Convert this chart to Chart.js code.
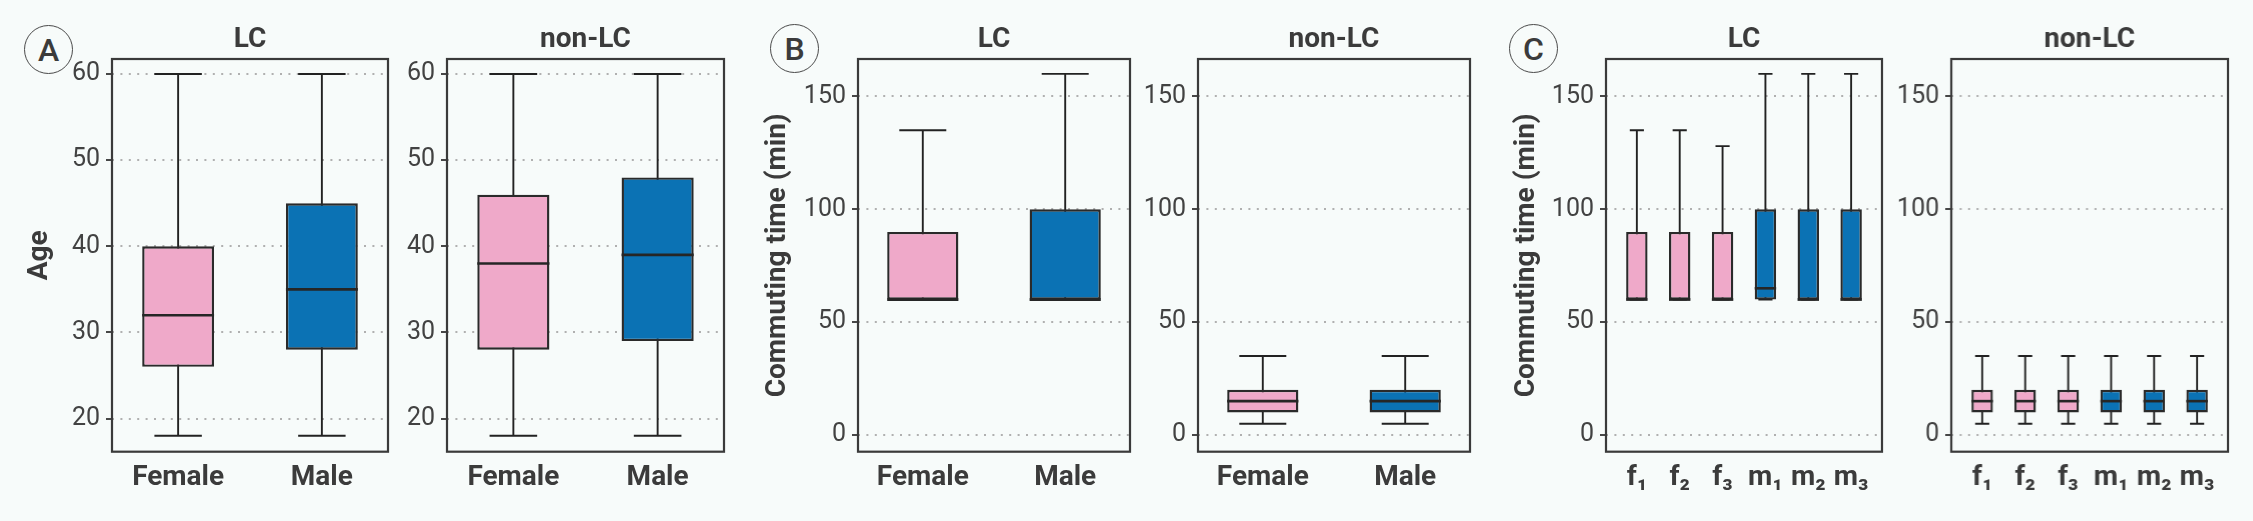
<!DOCTYPE html>
<html><head><meta charset="utf-8">
<script src="https://cdn.jsdelivr.net/npm/chart.js@4.4.1/dist/chart.umd.min.js"></script>
<style>
html,body{margin:0;padding:0;background:#F7FBFA;}
#wrap{position:relative;width:2253px;height:521px;overflow:hidden;background:#F7FBFA;}
#wrap canvas{position:absolute;top:0;}
.tag{position:absolute;width:49px;height:49px;border:1.3px solid #4a4a4a;border-radius:50%;box-sizing:border-box;display:flex;align-items:center;justify-content:center;font-family:Roboto,sans-serif;font-weight:500;font-size:32px;color:#3b3b3b;line-height:1;}
</style></head><body>
<div id="wrap">
  <div class="tag" style="left:24px;top:25px;">A</div>
  <div class="tag" style="left:770px;top:24px;">B</div>
  <div class="tag" style="left:1509px;top:24px;">C</div>
  <canvas id="aLC"></canvas><canvas id="aNon"></canvas>
  <canvas id="bLC"></canvas><canvas id="bNon"></canvas>
  <canvas id="cLC"></canvas><canvas id="cNon"></canvas>
</div>
<script>
// ---------- data ----------
const sexCats = ['Female', 'Male'];
const subCats = ['f₁', 'f₂', 'f₃', 'm₁', 'm₂', 'm₃'];
const ageTicks = [20, 30, 40, 50, 60];
const timeTicks = [0, 50, 100, 150];

// A: Age, LC
const ageLCMin = [18, 18];
const ageLCQ1  = [26, 28];
const ageLCMed = [32, 35];
const ageLCQ3  = [40, 45];
const ageLCMax = [60, 60];
// A: Age, non-LC
const ageNonMin = [18, 18];
const ageNonQ1  = [28, 29];
const ageNonMed = [38, 39];
const ageNonQ3  = [46, 48];
const ageNonMax = [60, 60];

// B: Commuting time by sex, LC
const timeLCMin = [60, 60];
const timeLCQ1  = [60, 60];
const timeLCMed = [60, 60];
const timeLCQ3  = [90, 100];
const timeLCMax = [135, 160];
// B: non-LC
const timeNonMin = [5, 5];
const timeNonQ1  = [10, 10];
const timeNonMed = [15, 15];
const timeNonQ3  = [20, 20];
const timeNonMax = [35, 35];

// C: Commuting time by subgroup, LC
const subLCMin = [60, 60, 60, 60, 60, 60];
const subLCQ1  = [60, 60, 60, 60, 60, 60];
const subLCMed = [60, 60, 60, 65, 60, 60];
const subLCQ3  = [90, 90, 90, 100, 100, 100];
const subLCMax = [135, 135, 128, 160, 160, 160];
// C: non-LC
const subNonMin = [5, 5, 5, 5, 5, 5];
const subNonQ1  = [10, 10, 10, 10, 10, 10];
const subNonMed = [15, 15, 15, 15, 15, 15];
const subNonQ3  = [20, 20, 20, 20, 20, 20];
const subNonMax = [35, 35, 35, 35, 35, 35];

// ---------- styling / layout ----------
const PINK = '#EFA9C9';
const BLUE = '#0B72B4';
const INK = '#3b3b3b';
const H = 521;
const YW = 100;          // fixed y-axis box width
const BOTTOM = 451.7;    // panel bottom

Chart.defaults.font.family = 'Roboto, sans-serif';
Chart.defaults.color = INK;

const panels = [
  {id:'aLC',  cats:sexCats, mn:ageLCMin, q1:ageLCQ1, md:ageLCMed, q3:ageLCQ3, mx:ageLCMax, ticks:ageTicks, yMin:16.15, yMax:61.75, title:'LC', yTitle:'Age', yTitleMid:39.6, left:112, right:388, pad:0.46},
  {id:'aNon', cats:sexCats, mn:ageNonMin, q1:ageNonQ1, md:ageNonMed, q3:ageNonQ3, mx:ageNonMax, ticks:ageTicks, yMin:16.15, yMax:61.75, title:'non-LC', yTitle:null, left:447, right:724, pad:0.46},
  {id:'bLC',  cats:sexCats, mn:timeLCMin, q1:timeLCQ1, md:timeLCMed, q3:timeLCQ3, mx:timeLCMax, ticks:timeTicks, yMin:-7.4, yMax:166.6, title:'LC', yTitle:'Commuting time (min)', yTitleMid:777.8, left:858.3, right:1130.5, pad:0.455},
  {id:'bNon', cats:sexCats, mn:timeNonMin, q1:timeNonQ1, md:timeNonMed, q3:timeNonQ3, mx:timeNonMax, ticks:timeTicks, yMin:-7.4, yMax:166.6, title:'non-LC', yTitle:null, left:1197.7, right:1470, pad:0.455},
  {id:'cLC',  cats:subCats, mn:subLCMin, q1:subLCQ1, md:subLCMed, q3:subLCQ3, mx:subLCMax, ticks:timeTicks, yMin:-7.4, yMax:166.6, title:'LC', yTitle:'Commuting time (min)', yTitleMid:1527.2, left:1606, right:1882, pad:0.72},
  {id:'cNon', cats:subCats, mn:subNonMin, q1:subNonQ1, md:subNonMed, q3:subNonQ3, mx:subNonMax, ticks:timeTicks, yMin:-7.4, yMax:166.6, title:'non-LC', yTitle:null, left:1951.3, right:2227.7, pad:0.72}
];

function colorFor(cat) { return (cat[0] === 'F' || cat[0] === 'f') ? PINK : BLUE; }

function boxPlugin(p) {
  return {
    id: 'box_' + p.id,
    beforeDatasetsDraw(chart) {
      const {ctx, scales: {x, y}} = chart;
      const cap = Math.abs(x.getPixelForValue(0.165) - x.getPixelForValue(0));
      ctx.save();
      ctx.strokeStyle = '#222';
      ctx.lineWidth = 1.9;
      p.cats.forEach((c, i) => {
        const px = x.getPixelForValue(i);
        const yT = y.getPixelForValue(p.mx[i]);
        const yB = y.getPixelForValue(p.mn[i]);
        ctx.beginPath();
        ctx.moveTo(px, yT); ctx.lineTo(px, yB);
        ctx.moveTo(px - cap, yT); ctx.lineTo(px + cap, yT);
        ctx.moveTo(px - cap, yB); ctx.lineTo(px + cap, yB);
        ctx.stroke();
      });
      ctx.restore();
    },
    afterDatasetsDraw(chart) {
      const {ctx, scales: {x, y}} = chart;
      const half = Math.abs(x.getPixelForValue(0.25) - x.getPixelForValue(0));
      ctx.save();
      ctx.strokeStyle = '#262626';
      ctx.lineWidth = 2.6;
      p.cats.forEach((c, i) => {
        const px = x.getPixelForValue(i);
        const ym = y.getPixelForValue(p.md[i]);
        ctx.beginPath();
        ctx.moveTo(px - half, ym); ctx.lineTo(px + half, ym);
        ctx.stroke();
      });
      ctx.restore();
    },
    afterDraw(chart) {
      const {ctx, chartArea: a} = chart;
      ctx.save();
      ctx.strokeStyle = '#3a3a3a';
      ctx.lineWidth = 2.2;
      ctx.strokeRect(a.left, a.top, a.right - a.left, a.bottom - a.top);
      ctx.restore();
    }
  };
}

panels.forEach(p => {
  const cv = document.getElementById(p.id);
  const cLeft = p.left - YW;
  const w = YW + (p.right - p.left) + 6;
  cv.style.left = cLeft + 'px';
  cv.width = w; cv.height = H;
  cv.style.width = w + 'px'; cv.style.height = H + 'px';

  new Chart(cv, {
    type: 'bar',
    data: {
      datasets: [{
        data: p.cats.map((c, i) => ({x: i, y: [p.q1[i], p.q3[i]]})),
        backgroundColor: p.cats.map(colorFor),
        borderColor: '#2a2a2a',
        borderWidth: 2.4,
        borderSkipped: false,
        barPercentage: 0.5,
        categoryPercentage: 1.0
      }]
    },
    options: {
      responsive: false,
      animation: false,
      devicePixelRatio: 1,
      layout: {padding: {left: 0, right: 6, top: 0, bottom: 0}},
      plugins: {
        legend: {display: false},
        tooltip: {enabled: false},
        title: {
          display: true, text: p.title, fullSize: false,
          font: {size: 28, weight: 'bold'}, color: INK,
          padding: {top: 23.5, bottom: 1.9}
        }
      },
      scales: {
        x: {
          type: 'linear',
          offset: false,
          min: -p.pad, max: p.cats.length - 1 + p.pad,
          afterBuildTicks: s => { s.ticks = p.cats.map((c, i) => ({value: i})); },
          afterFit: s => { s.height = H - BOTTOM; },
          grid: {display: false, drawTicks: false, offset: false},
          border: {display: false},
          ticks: {
            autoSkip: false, maxRotation: 0, padding: 9,
            font: {size: 28, weight: 'bold'}, color: INK,
            callback: v => p.cats[Math.round(v)]
          }
        },
        y: {
          min: p.yMin, max: p.yMax,
          afterBuildTicks: s => { s.ticks = p.ticks.map(v => ({value: v})); },
          afterFit: s => { s.width = YW; },
          grid: {color: '#b0b0b0', lineWidth: 2, drawTicks: true, tickLength: 6,
                 tickColor: '#333', tickWidth: 1.8, tickBorderDash: []},
          border: {display: false, dash: [2, 6.4]},
          ticks: {padding: 6, font: {size: 25}, color: '#424242',
                  callback: v => String(v)},
          title: p.yTitle ? {
            display: true, text: p.yTitle, color: INK,
            font: {size: 28, weight: 'bold'},
            padding: {top: p.yTitleMid - cLeft - 16.8, bottom: 0}
          } : {display: false}
        }
      }
    },
    plugins: [boxPlugin(p)]
  });
});
</script>
</body></html>
